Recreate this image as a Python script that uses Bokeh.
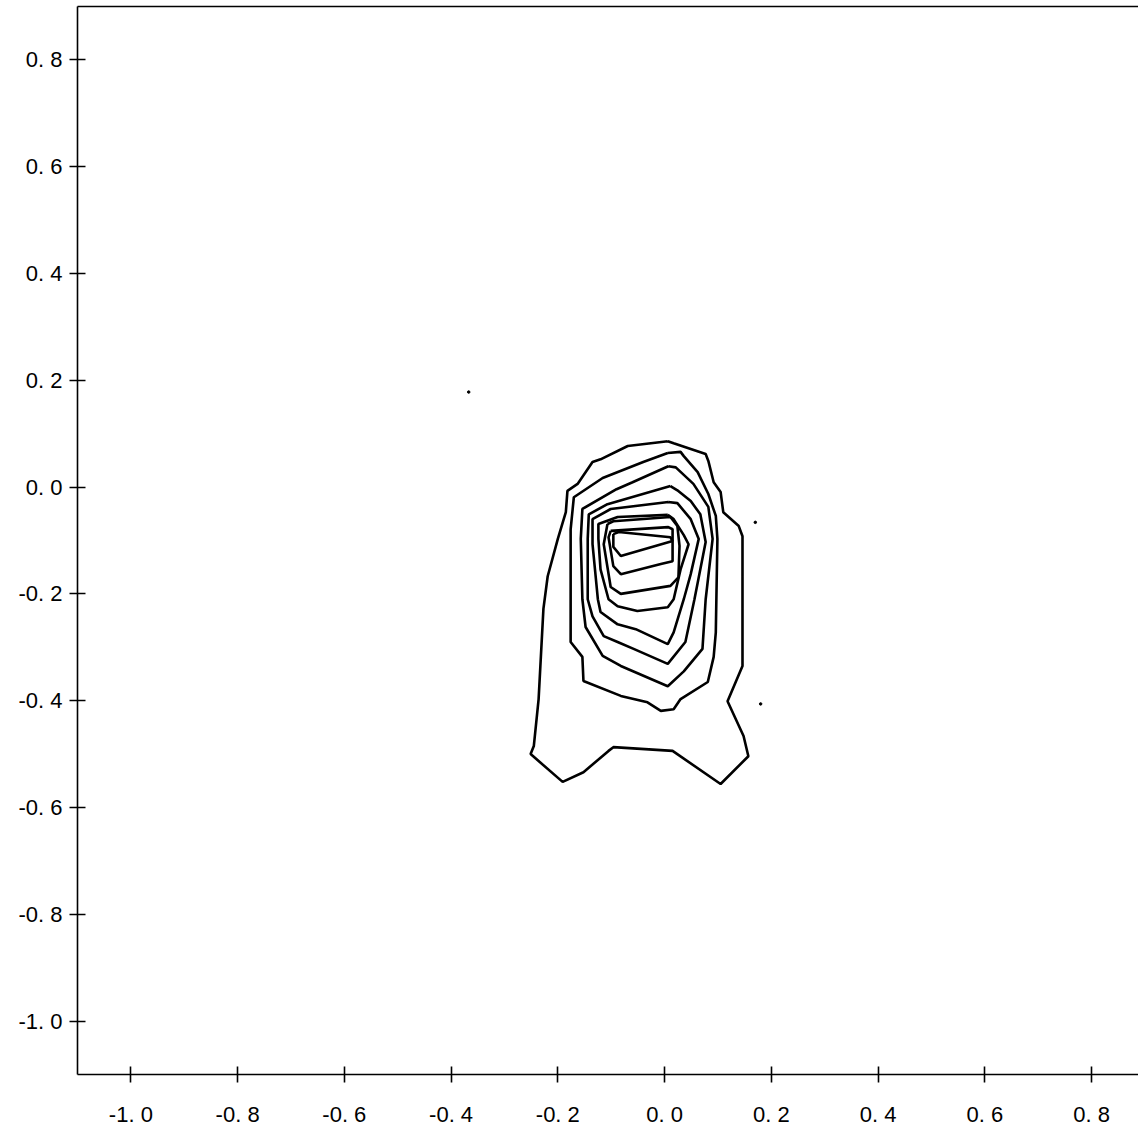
from bokeh.plotting import figure
from bokeh.models import Range1d, FixedTicker, LinearAxis
from bokeh.embed import file_html
from bokeh.resources import INLINE

# ---- data (data units) ----
x_ticks = [-1.0, -0.8, -0.6, -0.4, -0.2, 0.0, 0.2, 0.4, 0.6, 0.8]
x_tick_labels = ["-1. 0", "-0. 8", "-0. 6", "-0. 4", "-0. 2", "0. 0", "0. 2", "0. 4", "0. 6", "0. 8"]
y_ticks = [0.8, 0.6, 0.4, 0.2, 0.0, -0.2, -0.4, -0.6, -0.8, -1.0]
y_tick_labels = ["0. 8", "0. 6", "0. 4", "0. 2", "0. 0", "-0. 2", "-0. 4", "-0. 6", "-0. 8", "-1. 0"]

c1_x = [0.006, 0.017, 0.077, 0.082, 0.092, 0.105, 0.110, 0.139, 0.146, 0.146, 0.118, 0.148, 0.157, 0.105,
        0.015, -0.096, -0.105, -0.152, -0.191, -0.251, -0.245, -0.236, -0.227, -0.219, -0.200, -0.185,
        -0.182, -0.163, -0.135, -0.120, -0.069]
c1_y = [0.086, 0.082, 0.062, 0.049, 0.009, -0.009, -0.047, -0.073, -0.092, -0.335, -0.401, -0.466, -0.504,
        -0.556, -0.494, -0.487, -0.494, -0.534, -0.552, -0.500, -0.485, -0.397, -0.228, -0.167, -0.097,
        -0.047, -0.007, 0.006, 0.047, 0.052, 0.077]

c2_x = [0.006, 0.030, 0.036, 0.062, 0.082, 0.096, 0.099, 0.096, 0.092, 0.081, 0.030, 0.017, -0.007, -0.032,
        -0.082, -0.152, -0.154, -0.176, -0.176, -0.170, -0.116, -0.040]
c2_y = [0.064, 0.066, 0.058, 0.028, -0.013, -0.054, -0.097, -0.272, -0.318, -0.365, -0.397, -0.416, -0.419,
        -0.403, -0.391, -0.363, -0.318, -0.290, -0.079, -0.019, 0.017, 0.047]

c3_x = [0.007, 0.021, 0.054, 0.082, 0.090, 0.077, 0.071, 0.036, 0.006, -0.082, -0.116, -0.148, -0.154,
        -0.157, -0.154, -0.090, -0.060]
c3_y = [0.039, 0.037, 0.006, -0.037, -0.097, -0.210, -0.303, -0.345, -0.373, -0.335, -0.316, -0.262,
        -0.210, -0.097, -0.041, -0.004, 0.009]

c4_x = [0.011, 0.024, 0.049, 0.067, 0.077, 0.056, 0.039, 0.006, -0.058, -0.088, -0.114, -0.135, -0.144,
        -0.144, -0.142, -0.107]
c4_y = [0.002, -0.006, -0.026, -0.051, -0.103, -0.210, -0.290, -0.331, -0.303, -0.290, -0.279, -0.242,
        -0.210, -0.097, -0.051, -0.032]

c5_x = [0.007, 0.024, 0.049, 0.064, 0.049, 0.036, 0.017, 0.006, -0.054, -0.088, -0.120, -0.125, -0.135,
        -0.135, -0.101]
c5_y = [-0.028, -0.030, -0.060, -0.097, -0.163, -0.210, -0.272, -0.294, -0.266, -0.257, -0.234, -0.210,
        -0.107, -0.060, -0.041]

c6_x = [0.006, 0.017, 0.036, 0.045, 0.030, 0.017, 0.006, -0.051, -0.088, -0.105, -0.120, -0.124, -0.124,
        -0.088]
c6_y = [-0.052, -0.060, -0.090, -0.107, -0.154, -0.210, -0.225, -0.232, -0.223, -0.210, -0.154, -0.097,
        -0.069, -0.056]

c7_x = [-0.107, -0.096, 0.011, 0.024, 0.028, 0.026, 0.011, -0.082, -0.101, -0.114]
c7_y = [-0.069, -0.064, -0.056, -0.073, -0.110, -0.169, -0.185, -0.200, -0.187, -0.107]

c8_x = [-0.101, 0.007, 0.015, 0.015, -0.007, -0.082, -0.096, -0.105]
c8_y = [-0.082, -0.075, -0.079, -0.139, -0.144, -0.163, -0.148, -0.094]

c9_x = [-0.096, -0.086, 0.011, 0.015, -0.082, -0.096]
c9_y = [-0.088, -0.084, -0.094, -0.101, -0.129, -0.112]

speck_x = [-0.367, 0.170, 0.180]
speck_y = [0.178, -0.066, -0.406]

contours_x = [c1_x, c2_x, c3_x, c4_x, c5_x, c6_x, c7_x, c8_x, c9_x]
contours_y = [c1_y, c2_y, c3_y, c4_y, c5_y, c6_y, c7_y, c8_y, c9_y]

# ---- figure ----
p = figure(width=1138, height=1129, output_backend="svg", toolbar_location=None,
           x_range=Range1d(-1.1, 0.888), y_range=Range1d(-1.1, 0.9),
           min_border_left=77, min_border_right=0, min_border_top=6, min_border_bottom=54)
p.outline_line_color = None
p.xgrid.visible = False
p.ygrid.visible = False
p.background_fill_color = "white"
p.border_fill_color = "white"

xs = [cx + [cx[0]] for cx in contours_x]
ys = [cy + [cy[0]] for cy in contours_y]
p.multi_line(xs, ys, line_color="black", line_width=2.6)
p.scatter(speck_x, speck_y, size=2.5, color="black")

font = "Liberation Sans"
for ax, ticks, labels in ((p.xaxis[0], x_ticks, x_tick_labels), (p.yaxis[0], y_ticks, y_tick_labels)):
    ax.ticker = FixedTicker(ticks=ticks)
    ax.major_label_overrides = {t: l for t, l in zip(ticks, labels)}
    ax.minor_tick_line_color = None
    ax.major_tick_in = 8
    ax.major_tick_out = 8
    ax.major_tick_line_width = 1.6
    ax.major_tick_line_color = "black"
    ax.axis_line_width = 1.6
    ax.axis_line_color = "black"
    ax.major_label_text_font = font
    ax.major_label_text_font_size = "22px"
    ax.major_label_text_color = "black"

p.xaxis[0].major_label_standoff = 19
p.yaxis[0].major_label_standoff = 7

top = LinearAxis(ticker=FixedTicker(ticks=[]), major_tick_in=0, major_tick_out=0,
                 minor_tick_line_color=None, major_label_text_font_size="0px",
                 axis_line_width=1.6, axis_line_color="black")
p.add_layout(top, "above")

open("out.html", "w").write(file_html(p, INLINE))
